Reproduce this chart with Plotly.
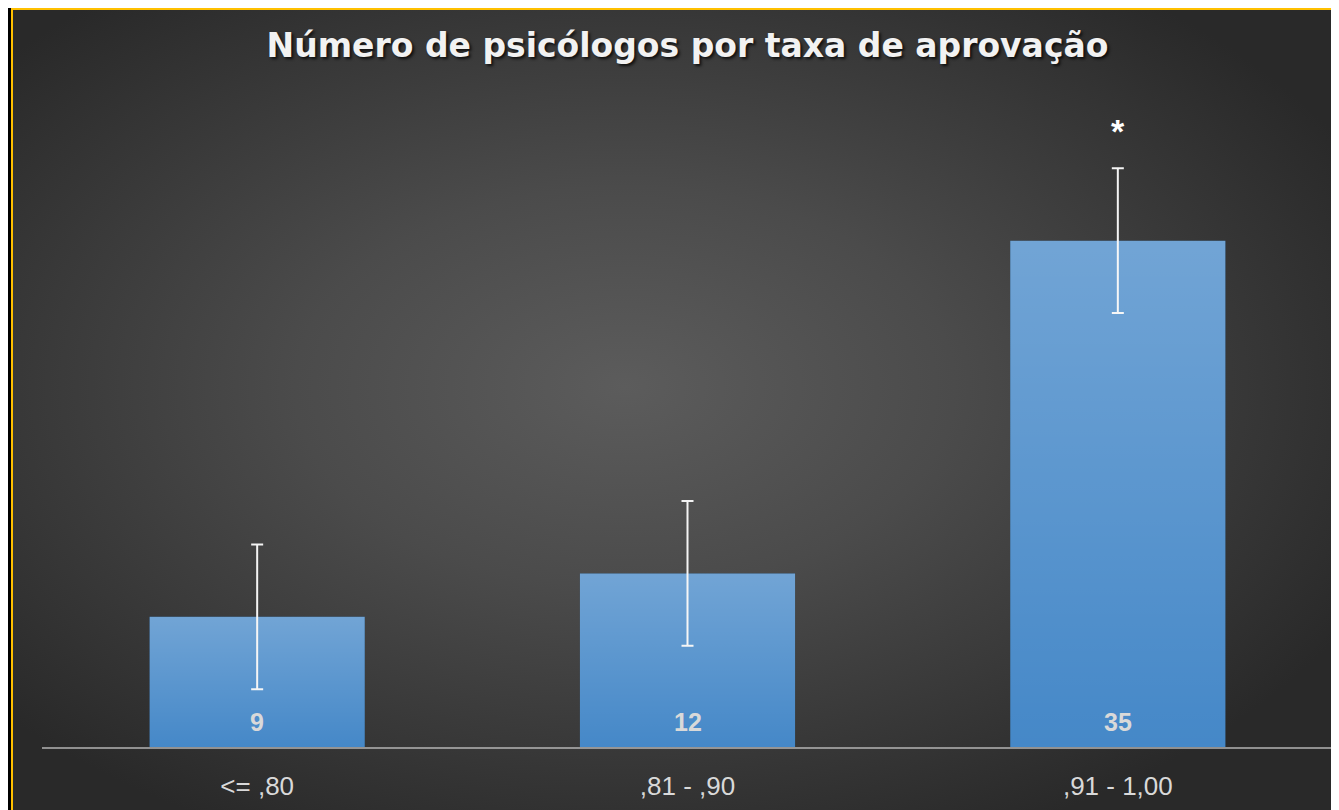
import base64
import plotly.graph_objects as go

# ---- data ----
categories = ["<= ,80", ",81 - ,90", ",91 - 1,00"]
counts = [9, 12, 35]
errors = [5, 5, 5]
value_labels = [str(v) for v in counts]
title_text = "Número de psicólogos por taxa de aprovação"
signif_text = "*"
signif_index = 2

# ---- layout geometry (page body adds an 8px offset) ----
OFF = 8
W, H = 1339 - OFF, 810 - OFF
ML, MR, MT, MB = 42 - OFF, 6, 96 - OFF, 63
PW = W - ML - MR
PH = H - MT - MB
BARGAP = 0.5
BAR_W = 1 - BARGAP


def px_x(px):
    return (px - ML) / PW


def px_y(py):
    return (H - MB - py) / PH


def svg_uri(svg):
    return "data:image/svg+xml;base64," + base64.b64encode(svg.encode("utf-8")).decode("ascii")


# radial gradient background as an SVG image
bg_x0, bg_y0 = 5, 0
bg_w, bg_h = W - bg_x0 + 4, H - bg_y0 + 4
bg_svg = f'''<svg xmlns="http://www.w3.org/2000/svg" width="{bg_w}" height="{bg_h}" viewBox="0 0 {bg_w} {bg_h}" preserveAspectRatio="none">
<defs><radialGradient id="g" cx="0.46" cy="0.47" r="0.62">
<stop offset="0" stop-color="#5c5c5c"/>
<stop offset="0.4" stop-color="#4b4b4b"/>
<stop offset="1" stop-color="#292929"/>
</radialGradient></defs>
<rect x="0" y="0" width="{bg_w}" height="{bg_h}" fill="url(#g)"/>
</svg>'''

# light sheen overlay for the bars (lighter at top, fading to the bottom)
sheen_svg = '''<svg xmlns="http://www.w3.org/2000/svg" width="100" height="100" viewBox="0 0 100 100" preserveAspectRatio="none">
<defs><linearGradient id="s" x1="0" y1="0" x2="0" y2="1">
<stop offset="0" stop-color="#ffffff" stop-opacity="0.24"/>
<stop offset="1" stop-color="#ffffff" stop-opacity="0"/>
</linearGradient></defs>
<rect x="0" y="0" width="100" height="100" fill="url(#s)"/>
</svg>'''

fig = go.Figure()
fig.add_trace(go.Bar(
    x=categories,
    y=counts,
    marker=dict(color="#4588c8", line=dict(width=0)),
    error_y=dict(type="data", array=errors, visible=True,
                 color="#f4f4f4", thickness=2, width=6),
    hoverinfo="skip",
))

annotations = []
for c, lab in zip(categories, value_labels):
    annotations.append(dict(
        x=c, y=0, xref="x", yref="y", text=lab, showarrow=False,
        yanchor="middle", yshift=25,
        font=dict(family="Liberation Sans", size=25, color="#d9d9d9", weight="bold"),
    ))
annotations.append(dict(
    x=categories[signif_index], y=counts[signif_index] + errors[signif_index],
    xref="x", yref="y", text=signif_text, showarrow=False,
    yanchor="middle", yshift=37,
    font=dict(family="Liberation Sans", size=34, color="#ffffff", weight="bold"),
))

images = [dict(
    source=svg_uri(bg_svg), xref="paper", yref="paper",
    x=px_x(bg_x0), y=px_y(bg_y0), sizex=bg_w / PW, sizey=bg_h / PH,
    xanchor="left", yanchor="top", sizing="stretch", layer="below",
)]
for i, v in enumerate(counts):
    images.append(dict(
        source=svg_uri(sheen_svg), xref="x", yref="y",
        x=i - BAR_W / 2, y=v, sizex=BAR_W, sizey=v,
        xanchor="left", yanchor="top", sizing="stretch", layer="above",
    ))

fig.update_layout(
    width=W, height=H,
    margin=dict(l=ML, r=MR, t=MT, b=MB, pad=0),
    paper_bgcolor="#000000",
    plot_bgcolor="rgba(0,0,0,0)",
    showlegend=False,
    bargap=BARGAP,
    title=dict(
        text=title_text, x=0.5, xref="paper", xanchor="center",
        y=1 - (45 - OFF) / H, yref="container", yanchor="middle",
        font=dict(family="DejaVu Sans", size=33, color="#f2f2f2", weight="bold",
                  shadow="2px 2px 3px rgba(0,0,0,0.75)"),
    ),
    xaxis=dict(
        showgrid=False, zeroline=False, showline=True,
        linecolor="rgba(200,200,200,0.65)", linewidth=2,
        ticks="", ticklabelstandoff=15,
        tickfont=dict(family="Liberation Sans", size=26, color="#d9d9d9"),
        fixedrange=True,
    ),
    yaxis=dict(
        range=[0, 45], showgrid=False, zeroline=False, showline=False,
        showticklabels=False, ticks="", fixedrange=True,
    ),
    images=images,
    shapes=[dict(
        type="rect", xref="paper", yref="paper",
        x0=px_x(4), x1=px_x(W + 6), y0=px_y(1), y1=px_y(H + 6),
        line=dict(color="#ffc000", width=2), fillcolor="rgba(0,0,0,0)",
        layer="above",
    )],
    annotations=annotations,
)

fig.write_html("out.html")
